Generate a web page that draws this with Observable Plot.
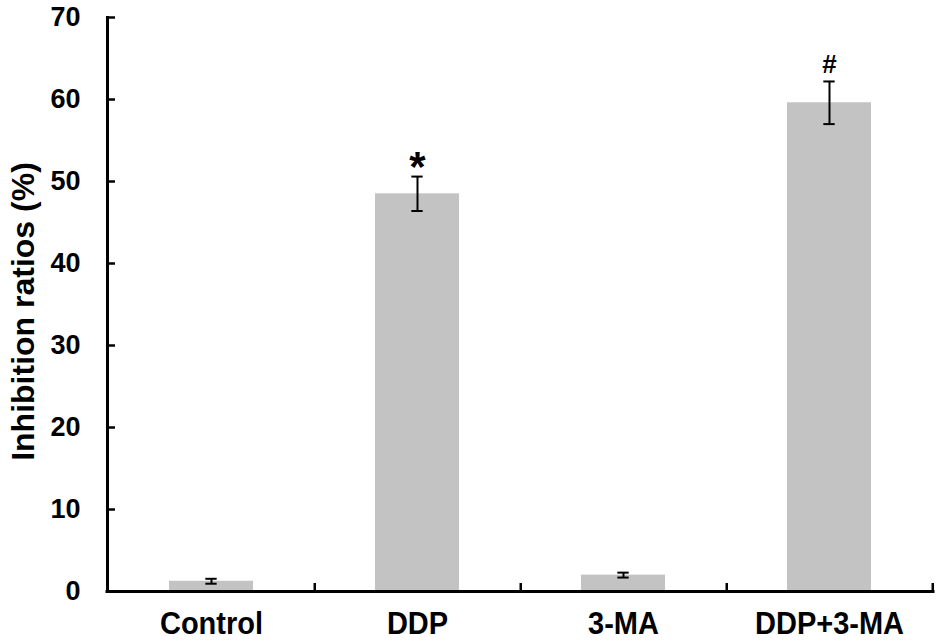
<!DOCTYPE html>
<html>
<head>
<meta charset="utf-8">
<script src="https://cdn.jsdelivr.net/npm/d3@7"></script>
<script src="https://cdn.jsdelivr.net/npm/@observablehq/plot@0.6"></script>
<style>
  html, body { margin: 0; padding: 0; background: #fff; }
  #chart { width: 945px; height: 642px; }
</style>
</head>
<body>
<div id="chart"></div>
<script>
const groups = ["Control", "DDP", "3-MA", "DDP+3-MA"];
const means  = [1.25, 48.5, 2.0, 59.6];
const errors = [0.3, 2.1, 0.3, 2.6];
const marks  = ["", "*", "", "#"];
const yTicks = [0, 10, 20, 30, 40, 50, 60, 70];
const yLabel = "Inhibition ratios (%)";

const data = groups.map((g, i) => ({
  group: g, value: means[i], lo: means[i] - errors[i], hi: means[i] + errors[i], mark: marks[i]
}));

const W = 945, H = 642;
const mL = 107, mR = 12, mT = 17, mB = 51;
const frameW = W - mL - mR, frameH = H - mT - mB;
const step = frameW / groups.length;
const padInner = 0.59;
const bw = step * (1 - padInner);
const capW = 12;
const font = "'Liberation Sans', Arial, Helvetica, sans-serif";

const chart = Plot.plot({
  width: W, height: H,
  marginLeft: mL, marginRight: mR, marginTop: mT, marginBottom: mB,
  style: { fontFamily: font, fontWeight: "bold", color: "#000", background: "#fff" },
  x: { domain: groups, paddingInner: padInner, paddingOuter: padInner / 2, label: null },
  y: { domain: [0, 70], label: null },
  marks: [
    Plot.barY(data, { x: "group", y: "value", fill: "#c3c3c3" }),
    Plot.ruleX(data, { x: "group", y1: "lo", y2: "hi", stroke: "#000", strokeWidth: 2 }),
    Plot.tickY(data, { x: "group", y: "lo", stroke: "#000", strokeWidth: 2, insetLeft: (bw - capW) / 2, insetRight: (bw - capW) / 2 }),
    Plot.tickY(data, { x: "group", y: "hi", stroke: "#000", strokeWidth: 2, insetLeft: (bw - capW) / 2, insetRight: (bw - capW) / 2 }),
    Plot.text(data.filter(d => d.mark === "*"), { x: "group", y: "hi", text: "mark", dy: -9, fontSize: 42, fontWeight: "bold", fill: "#000" }),
    Plot.text(data.filter(d => d.mark === "#"), { x: "group", y: "hi", text: "mark", dy: -17, fontSize: 26, fontWeight: "bold", fill: "#000" }),
    // inward y ticks
    Plot.ruleY(yTicks, { y: d => d, stroke: "#000", strokeWidth: 2.5, insetRight: frameW - 8 }),
    // inward x ticks at category boundaries
    Plot.tickX(groups, { x: d => d, dx: step / 2, stroke: "#000", strokeWidth: 2.5, insetTop: frameH - 8 }),
    // axis lines
    Plot.ruleY([0], { stroke: "#000", strokeWidth: 3, strokeLinecap: "square" }),
    Plot.frame({ anchor: "left", stroke: "#000", strokeWidth: 3, strokeLinecap: "square" }),
    Plot.axisY({ ticks: yTicks, tickSize: 0, tickPadding: 27, fontSize: 27, fontWeight: "bold", label: null }),
    Plot.axisX({ tickSize: 0, tickPadding: 20, fontSize: 29, fontWeight: "bold", label: null }),
    Plot.text([yLabel], { frameAnchor: "left", textAnchor: "middle", lineAnchor: "middle", rotate: -90, dx: -84, dy: 7, fontSize: 32, fontWeight: "bold", fill: "#000", ariaLabel: "y-title" })
  ]
});
document.getElementById("chart").appendChild(chart);

// match the reference's vertically stretched lettering
chart.querySelectorAll('g[aria-label="x-axis tick label"] text').forEach(t => {
  const tr = t.getAttribute("transform") || "";
  t.setAttribute("transform", tr + " scale(1,1.1)");
});
chart.querySelectorAll('g[aria-label="y-title"] text').forEach(t => {
  t.setAttribute("textLength", 310);
  t.setAttribute("lengthAdjust", "spacingAndGlyphs");
});
</script>
</body>
</html>
